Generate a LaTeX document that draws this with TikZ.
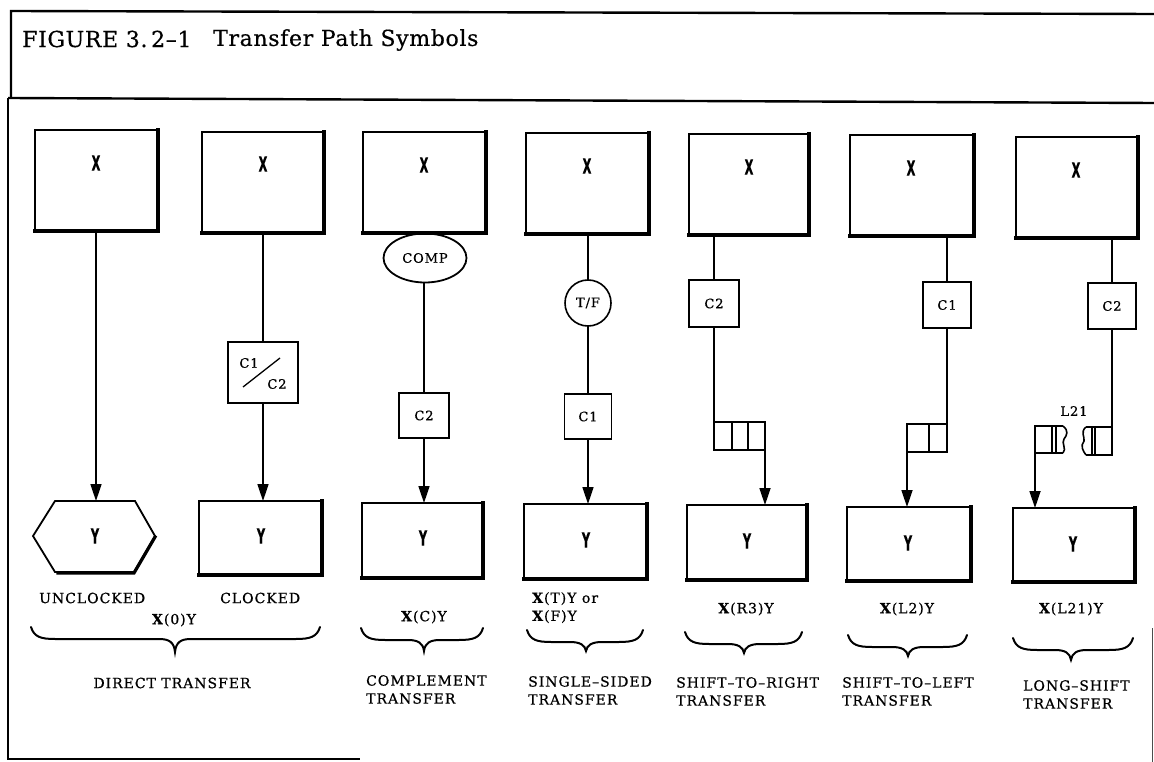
\documentclass[tikz,border=0pt]{standalone}
\usepackage{fontspec}
\usepackage{graphicx}
\setmainfont{DejaVu Serif}[LetterSpace=7, FakeBold=0.6]
\newfontfamily\titlefont{DejaVu Serif}[LetterSpace=3, FakeBold=0.5]
\newfontfamily\boxfont{DejaVu Sans}[FakeBold=0.5]
\usetikzlibrary{arrows.meta,shapes.geometric}

\tikzset{
  frameline/.style={line width=2.4pt},
  regline/.style={line width=1.8pt, line join=miter},
  regbox/.style={draw, rectangle, line width=1.8pt, inner sep=0pt, outer sep=0pt},
  boxshade/.style={line width=3.2pt, line cap=rect},
  gatebox/.style={draw, rectangle, line width=1.5pt, inner sep=0pt, outer sep=0pt,
                  font=\fontsize{13}{15}\selectfont},
  gatetext/.style={inner sep=0pt, font=\fontsize{13}{15}\selectfont},
  link/.style={line width=1.7pt},
  flow/.style={line width=1.7pt, -{Triangle[length=17pt,width=11pt]}},
  reglabel/.style={inner sep=0pt},
  caption/.style={inner sep=0pt, align=left, font=\fontsize{14}{18}\selectfont},
  bracepath/.style={line width=2pt, line cap=round},
}

% bold condensed letter used inside the register boxes
\newcommand\regletter[1]{\scalebox{0.55}[1]{\boxfont\bfseries\fontsize{21}{21}\selectfont #1}}

% register box with a heavier right and lower edge
% #1 name, #2 x-left, #3 y-top, #4 x-right, #5 y-bottom
\newcommand\shadedreg[5]{%
  \node[regbox, minimum width={#4-#2}, minimum height={#5-#3}] (#1) at ({(#2+#4)/2},{(#3+#5)/2}) {};
  \draw[boxshade] ([xshift=1pt]#1.north east) -- ([xshift=1pt,yshift=-1pt]#1.south east)
                  -- ([yshift=-1pt]#1.south west);
}

% curly brace pointing down: #1 left x, #2 right x, #3 tip x, #4 top y, #5 tip y
\newcommand\downbrace[5]{%
  \draw[bracepath] (#1,#4) .. controls ({#1+3},{#4+10}) and ({#1+10},{#4+12}) .. ({#1+24},{#4+12})
    -- ({#3-16},{#4+12}) .. controls ({#3-6},{#4+12}) and ({#3-1},{#4+15}) .. (#3,#5)
    .. controls ({#3+1},{#4+15}) and ({#3+6},{#4+12}) .. ({#3+16},{#4+12})
    -- ({#2-24},{#4+12}) .. controls ({#2-10},{#4+12}) and ({#2-3},{#4+10}) .. (#2,#4);
}

\begin{document}
\begin{tikzpicture}[x=1pt,y=-1pt]
\useasboundingbox (0,0) rectangle (1154,762);

% ---------- frame and heading ----------
\draw[frameline] (1154,14) -- (11,11) -- (11,98);
\draw[frameline] (8,98) -- (1154,103);
\draw[frameline] (8,98) -- (8,759) -- (360,759);
\draw[line width=1pt, black!70] (1152,628) -- (1152,762);
\node[anchor=west, inner sep=0pt, font=\titlefont\fontsize{22}{26}\selectfont] (fig) at (22,39) {FIGURE 3.\,2–1};
\node[anchor=west, inner sep=0pt, font=\titlefont\fontsize{22}{26}\selectfont] (ttl) at (213,40) {Transfer Path Symbols};

% ---------- column 1: direct, unclocked ----------
\shadedreg{x1}{35}{130}{157}{230}
\node[reglabel] (x1l) at (96,163) {\regletter{X}};
\draw[regline] (55,501) -- (135,501) -- (155,536) -- (134,572) -- (55,572) -- (33,536) -- cycle;
\draw[boxshade] (155,537) -- (134,573) -- (58,573);
\coordinate (h1) at (95,501);
\node[reglabel] (y1l) at (95,536) {\regletter{Y}};
\draw[flow] (x1.south) -- (x1.south |- h1);

% ---------- column 2: direct, clocked ----------
\shadedreg{x2}{202}{132}{323}{232}
\node[reglabel] (x2l) at (263,164) {\regletter{X}};
\node[gatebox, minimum width=70, minimum height=61] (cc2) at (263,372.5) {};
\node[gatetext] (cc2a) at (249,363) {C1};
\node[gatetext] (cc2b) at (277,384) {C2};
\draw[line width=1.3pt] (243,387) -- (280,358);
\shadedreg{y2}{199}{501}{321}{574}
\node[reglabel] (y2l) at (261,536) {\regletter{Y}};
\draw[link] (cc2.north |- x2.south) -- (cc2.north);
\draw[flow] (cc2.south) -- (cc2.south |- y2.north);

% ---------- column 3: complement ----------
\shadedreg{x3}{363}{132}{485}{232}
\node[reglabel] (x3l) at (424,165) {\regletter{X}};
\node[draw, ellipse, line width=1.8pt, minimum width=83, minimum height=49, inner sep=0pt,
      outer sep=0pt, font=\fontsize{13}{15}\selectfont] (comp3) at (425,258) {COMP};
\node[gatebox, minimum width=50, minimum height=45] (c3) at (424,415.5) {C2};
\shadedreg{y3}{362}{503}{482}{577}
\node[reglabel] (y3l) at (423,538) {\regletter{Y}};
\draw[link] (comp3.south) -- (comp3.south -| c3.north) -- (c3.north);
\draw[flow] (c3.south) -- (c3.south |- y3.north);

% ---------- column 4: single-sided ----------
\shadedreg{x4}{526}{133}{648}{233}
\node[reglabel] (x4l) at (587,166) {\regletter{X}};
\node[draw, circle, line width=1.6pt, minimum size=46, inner sep=0pt, outer sep=0pt,
      font=\fontsize{13}{15}\selectfont] (tf4) at (588,303) {T/F};
\node[gatebox, minimum width=47, minimum height=45] (c4) at (588,416.5) {C1};
\shadedreg{y4}{524}{504}{646}{578}
\node[reglabel] (y4l) at (586,540) {\regletter{Y}};
\draw[link] (tf4.north |- x4.south) -- (tf4.north);
\draw[link] (tf4.south) -- (c4.north);
\draw[flow] (c4.south) -- (c4.south |- y4.north);

% ---------- column 5: shift to right ----------
\shadedreg{x5}{689}{134}{808}{234}
\node[reglabel] (x5l) at (749,167) {\regletter{X}};
\node[gatebox, minimum width=50, minimum height=47] (c5) at (714,303.5) {C2};
\node[regbox, line width=1.6pt, minimum width=51, minimum height=28] (r5) at (739.5,436) {};
\draw[line width=1.6pt] (732,422) -- (732,450) (748,422) -- (748,450);
\shadedreg{y5}{687}{505}{806}{579}
\node[reglabel] (y5l) at (747,541) {\regletter{Y}};
\draw[link] (c5.north |- x5.south) -- (c5.north);
\draw[link] (c5.south) -- (c5.south |- r5.north);
\draw[flow] (r5.south east) -- (r5.south east |- y5.north);

% ---------- column 6: shift to left ----------
\shadedreg{x6}{850}{135}{973}{235}
\node[reglabel] (x6l) at (911,168) {\regletter{X}};
\node[gatebox, minimum width=48, minimum height=46] (c6) at (947,305) {C1};
\node[regbox, line width=1.6pt, minimum width=40, minimum height=28] (r6) at (927,438) {};
\draw[line width=1.6pt] (929,424) -- (929,452);
\shadedreg{y6}{847}{507}{970}{580}
\node[reglabel] (y6l) at (908,543) {\regletter{Y}};
\draw[link] (c6.north |- x6.south) -- (c6.north);
\draw[link] (c6.south) -- (c6.south |- r6.north);
\draw[flow] (r6.south west) -- (r6.south west |- y6.north);

% ---------- column 7: long shift ----------
\shadedreg{x7}{1016}{137}{1137}{237}
\node[reglabel] (x7l) at (1076,170) {\regletter{X}};
\node[gatebox, minimum width=48, minimum height=46] (c7) at (1112,306) {C2};
% broken register, left piece
\draw[regline, line width=1.6pt] (1063,426) -- (1035,426) -- (1035,453) -- (1063,453);
\draw[line width=1.6pt] (1063,426) .. controls (1069,431) and (1067,435) .. (1064,439)
      .. controls (1061,443) and (1067,449) .. (1063,453);
\draw[line width=1.4pt] (1052,426) -- (1052,453) (1056,426) -- (1056,453);
\coordinate (lf7) at (1035,453);
% broken register, right piece
\draw[regline, line width=1.6pt] (1086,427) -- (1112,427) -- (1112,455) -- (1086,455);
\draw[line width=1.6pt] (1086,427) .. controls (1080,432) and (1085,437) .. (1084,441)
      .. controls (1080,446) and (1083,451) .. (1086,455);
\draw[line width=1.4pt] (1092,427) -- (1092,455) (1095,427) -- (1095,455);
\coordinate (rf7) at (1112,427);
\node[gatetext] (l21) at (1074,411) {L21};
\shadedreg{y7}{1013}{508}{1134}{581}
\node[reglabel] (y7l) at (1073,544) {\regletter{Y}};
\draw[link] (c7.north |- x7.south) -- (c7.north);
\draw[link] (c7.south) -- (c7.south |- rf7);
\draw[flow] (lf7) -- (lf7 |- y7.north);

% ---------- notation and captions ----------
\node[caption, anchor=west] (uncl) at (39,598) {UNCLOCKED};
\node[caption, anchor=west] (clk) at (220,598) {CLOCKED};
\node[caption] (n0) at (174,620) {\textbf{X}(0)Y};
\downbrace{31}{320}{175}{627}{652}
\node[caption] (direct) at (172,683) {DIRECT TRANSFER};

\node[caption] (nc) at (424,617) {\textbf{X}(C)Y};
\downbrace{361}{483}{424}{628}{651}
\node[caption, anchor=north west] (compl) at (366,675) {COMPLEMENT\\TRANSFER};

\node[caption, anchor=north west] (ntf) at (532,592) {\textbf{X}(T)Y or\\\textbf{X}(F)Y};
\downbrace{527}{643}{586}{630}{651}
\node[caption, anchor=north west] (single) at (528,676) {SINGLE–SIDED\\TRANSFER};

\node[caption] (nr3) at (746,609) {\textbf{X}(R3)Y};
\downbrace{685}{802}{744}{632}{653}
\node[caption, anchor=north west] (shr) at (676,677) {SHIFT–TO–RIGHT\\TRANSFER};

\node[caption] (nl2) at (907,609) {\textbf{X}(L2)Y};
\downbrace{848}{967}{908}{635}{656}
\node[caption, anchor=north west] (shl) at (842,677) {SHIFT–TO–LEFT\\TRANSFER};

\node[caption] (nl21) at (1071,609) {\textbf{X}(L21)Y};
\downbrace{1013}{1133}{1071}{638}{660}
\node[caption, anchor=north west] (lsh) at (1023,680) {LONG–SHIFT\\TRANSFER};
\end{tikzpicture}
\end{document}
